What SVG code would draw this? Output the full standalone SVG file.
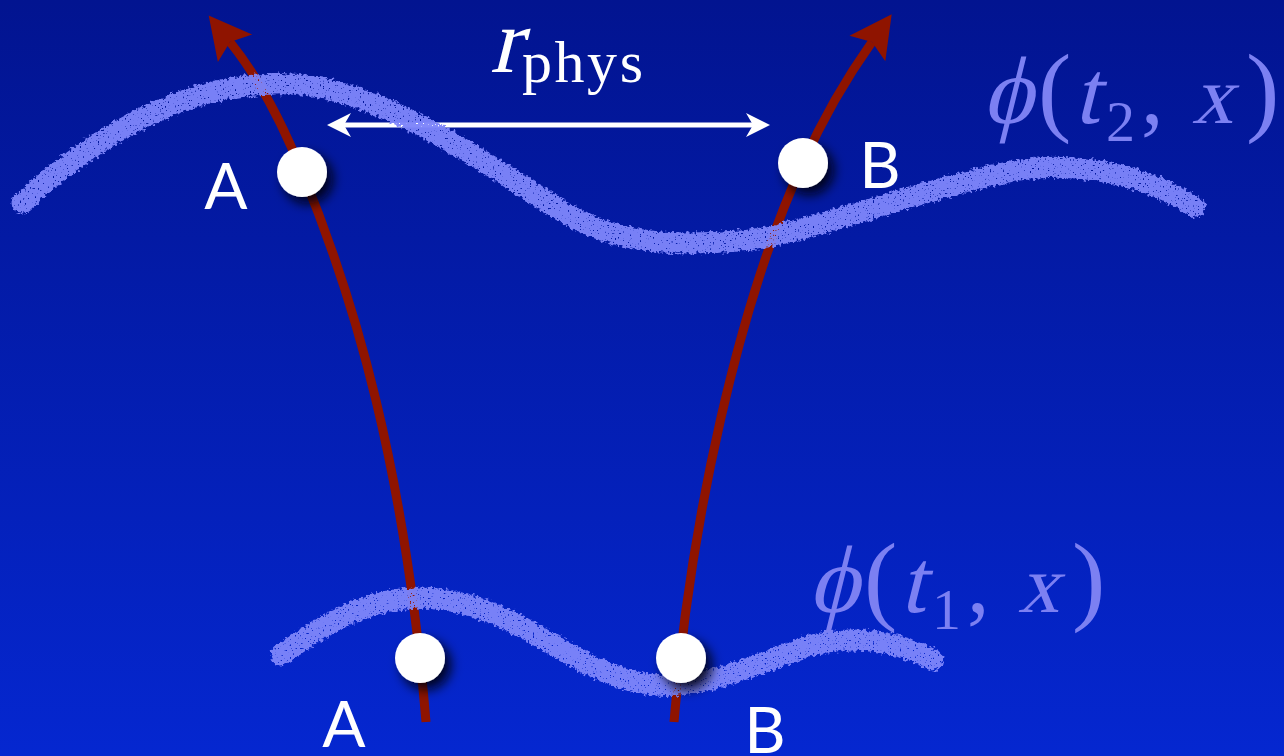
<svg xmlns="http://www.w3.org/2000/svg" width="1284" height="756" viewBox="0 0 1284 756">
  <style>
    .world { fill: none; stroke: #8f1400; stroke-width: 9; }
    .wave { fill: none; stroke: #7d85fa; stroke-width: 21; stroke-linecap: round; opacity: 0.96; }
    .ball { fill: #ffffff; }
    .lbl { font-family: "Lato", "Liberation Sans", sans-serif; font-size: 64px; fill: #ffffff; text-anchor: middle; }
    .math { font-family: "Liberation Serif", "DejaVu Serif", serif; fill: #7c80f2; }
    .mathw { font-family: "Liberation Serif", "DejaVu Serif", serif; fill: #ffffff; }
  </style>
  <defs>
    <linearGradient id="bg" x1="0" y1="0" x2="0" y2="1">
      <stop offset="0" stop-color="#021490"/>
      <stop offset="1" stop-color="#0527d0"/>
    </linearGradient>
    <filter id="rough" x="-5%" y="-30%" width="110%" height="160%">
      <feTurbulence type="fractalNoise" baseFrequency="0.3" numOctaves="2" seed="4" result="n"/>
      <feDisplacementMap in="SourceGraphic" in2="n" scale="8" xChannelSelector="R" yChannelSelector="G" result="d"/>
      <feTurbulence type="fractalNoise" baseFrequency="0.6" numOctaves="1" seed="9" result="n2"/>
      <feColorMatrix in="n2" type="matrix" values="0 0 0 0 0  0 0 0 0 0  0 0 0 0 0  12 0 0 0 -3.2" result="mask"/>
      <feComposite in="d" in2="mask" operator="in"/>
    </filter>
    <filter id="shadow" x="-60%" y="-60%" width="220%" height="220%">
      <feDropShadow dx="6" dy="7" stdDeviation="6" flood-color="#000010" flood-opacity="0.9"/>
    </filter>
    <marker id="redhead" markerUnits="userSpaceOnUse" markerWidth="90" markerHeight="60" viewBox="-20 -30 70 60" refX="0" refY="0" orient="auto">
      <path d="M34,0 L-8,-22 L0,0 L-8,22 Z" fill="#8f1400"/>
    </marker>
    <marker id="whitehead" markerUnits="userSpaceOnUse" markerWidth="40" markerHeight="30" viewBox="-10 -15 40 30" refX="0" refY="0" orient="auto-start-reverse">
      <path d="M17,0 L-7,-12 L0,0 L-7,12 Z" fill="#ffffff"/>
    </marker>
  </defs>

  <rect x="0" y="0" width="1284" height="756" fill="url(#bg)"/>

  <g id="connectors">
    <path id="worldline-A" class="world" marker-end="url(#redhead)" d="M426,722 C 405,470 355,300 302,172 C 285,130 263,83 230,42"/>
    <path id="worldline-B" class="world" marker-end="url(#redhead)" d="M674,722 C 690,520 740,300 803,163 C 820,125 845,80 872,42"/>
    <path id="r-phys-arrow" d="M344,125 L753,125" stroke="#ffffff" stroke-width="5" fill="none" marker-start="url(#whitehead)" marker-end="url(#whitehead)"/>
  </g>

  <g id="field-t2">
    <path class="wave" filter="url(#rough)" d="M22,203 C 90,140 180,85 275,84 C 370,80 480,160 560,210 C 620,247 680,245 740,241 C 800,237 930,185 1020,170 C 1083,160 1150,178 1195,207"/>
    <g class="math">
      <text transform="translate(982,123) skewX(-14)" font-size="96">ϕ</text>
      <text x="1038" y="123" font-size="100">(</text>
      <text transform="translate(1074,123) skewX(-14)" font-size="90">t</text>
      <text x="1106" y="141" font-size="58">2</text>
      <text x="1141" y="123" font-size="90">,</text>
      <text transform="translate(1192,123) skewX(-14)" font-size="82">x</text>
      <text x="1246" y="123" font-size="100">)</text>
    </g>
  </g>

  <g id="field-t1">
    <path class="wave" filter="url(#rough)" d="M281,655 C 330,620 370,598 420,598 C 490,598 540,640 590,665 C 630,684 660,690 700,682 C 760,670 800,640 850,640 C 890,640 915,650 933,660"/>
    <g class="math">
      <text transform="translate(808,612) skewX(-14)" font-size="96">ϕ</text>
      <text x="864" y="612" font-size="100">(</text>
      <text transform="translate(900,612) skewX(-14)" font-size="90">t</text>
      <text x="932" y="629" font-size="58">1</text>
      <text x="967" y="612" font-size="90">,</text>
      <text transform="translate(1018,612) skewX(-14)" font-size="82">x</text>
      <text x="1072" y="612" font-size="100">)</text>
    </g>
  </g>

  <g id="r-phys-label" class="mathw">
    <text transform="translate(490,72) skewX(-14)" font-size="92">r</text>
    <text x="522" y="82" font-size="60" textLength="121">phys</text>
  </g>

  <g id="node-A-t2">
    <circle class="ball" cx="302" cy="172" r="25" filter="url(#shadow)"/>
    <text class="lbl" x="226" y="209">A</text>
  </g>
  <g id="node-B-t2">
    <circle class="ball" cx="803" cy="163" r="25" filter="url(#shadow)"/>
    <text class="lbl" x="880" y="188">B</text>
  </g>
  <g id="node-A-t1">
    <circle class="ball" cx="420" cy="658" r="25" filter="url(#shadow)"/>
    <text class="lbl" x="344" y="747">A</text>
  </g>
  <g id="node-B-t1">
    <circle class="ball" cx="681" cy="658" r="25" filter="url(#shadow)"/>
    <text class="lbl" x="765" y="753">B</text>
  </g>
</svg>
